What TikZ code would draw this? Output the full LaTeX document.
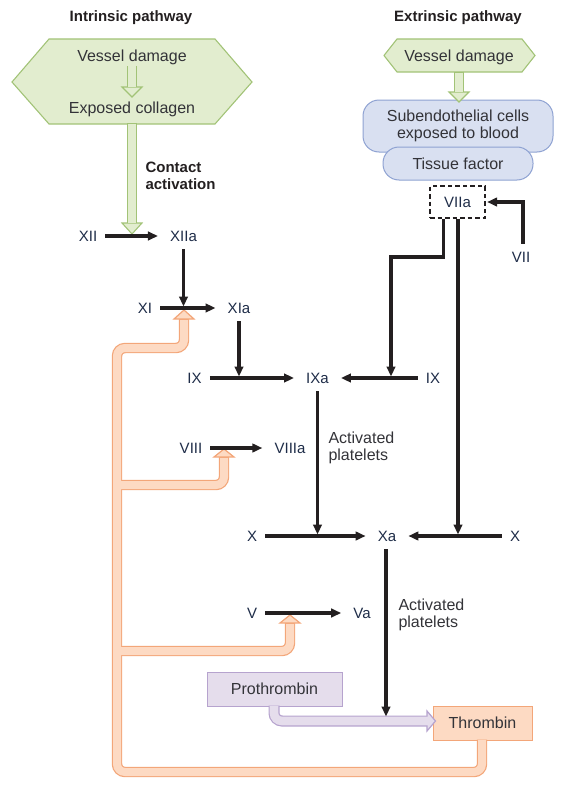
\documentclass[tikz,border=0pt]{standalone}
\usepackage{fontspec}
\setmainfont{Liberation Sans}
\usetikzlibrary{arrows.meta}
\definecolor{grfill}{HTML}{E2EDCF}
\definecolor{grline}{HTML}{A2C377}
\definecolor{blfill}{HTML}{D9E0F1}
\definecolor{blline}{HTML}{8EA2D2}
\definecolor{orfill}{HTML}{FDDAC3}
\definecolor{orline}{HTML}{F3A679}
\definecolor{pufill}{HTML}{E5DDEC}
\definecolor{puline}{HTML}{B6A3CE}
\definecolor{ink}{HTML}{231F20}
\definecolor{lab}{HTML}{1E2C48}
\definecolor{txt}{HTML}{333338}
\begin{document}
\begin{tikzpicture}[x=1pt,y=-1pt,
  every node/.style={font=\fontsize{16}{17}\selectfont, text=txt},
  fac/.style={font=\fontsize{15}{17}\selectfont, inner xsep=8pt, inner ysep=8pt, text=lab},
  head/.style={font=\fontsize{15}{17}\selectfont\bfseries, text=ink},
  harr/.style={line width=3.2pt, draw=ink, shorten >=4pt, -{Triangle[length=10pt,width=8.5pt]}},
  varr/.style={line width=3.2pt, draw=ink, shorten >=1.5pt, -{Triangle[length=10pt,width=8.5pt]}},
  bluebox/.style={draw=blline, fill=blfill, line width=1pt, align=center},
  purbox/.style={draw=puline, fill=pufill, line width=1pt, minimum height=34pt},
  orbox/.style={draw=orline, fill=orfill, line width=1pt, minimum height=34pt},
  gshaft/.style={line width=10pt, draw=grline},
  gfill/.style={line width=7.8pt, draw=grfill},
  ghead/.style={draw=grline, fill=grfill, line width=1.1pt, line join=miter},
  oshaft/.style={line width=10.4pt, draw=orline, rounded corners=8pt},
  ofill/.style={line width=8pt, draw=orfill, rounded corners=8pt},
  ohead/.style={draw=orline, fill=orfill, line width=1.2pt},
  pshaft/.style={line width=11pt, draw=puline, rounded corners=8pt},
  pfill/.style={line width=8.6pt, draw=pufill, rounded corners=8pt},
  phead/.style={draw=puline, fill=pufill, line width=1.2pt}
]
\useasboundingbox (0,0) rectangle (581,792);

% headings
\node[head, anchor=base] (hin) at (131,22) {Intrinsic pathway};
\node[head, anchor=base] (hex) at (458,22) {Extrinsic pathway};

% left hexagon
\draw[draw=grline, fill=grfill, line width=1.1pt] (12,82) -- (49,39) -- (215,39) -- (252,82) -- (215,124) -- (49,124) -- cycle;
\node[anchor=base] (vd1) at (132,62) {Vessel damage};
\node[anchor=base] (ec) at (132,113.5) {Exposed collagen};
\coordinate (ga1) at (132,66);
\coordinate (ga2) at (132,87.5);
\draw[gshaft] (ga1) -- (ga2);
\draw[ghead] (122,87) -- (132,97) -- (142,87) -- cycle;
\draw[gfill] (ga1) -- ([yshift=1pt]ga2);

% right hexagon
\draw[draw=grline, fill=grfill, line width=1.1pt] (384,55.5) -- (397,39) -- (522,39) -- (535,55.5) -- (522,72) -- (397,72) -- cycle;
\node[anchor=base] (vd2) at (459,61.5) {Vessel damage};

% extrinsic boxes
\node[bluebox, minimum width=190pt, minimum height=52pt, rounded corners=16pt] (sub) at (458,126) {Subendothelial cells\\exposed to blood};
\node[bluebox, minimum width=150pt, minimum height=33pt, rounded corners=16pt] (tf) at (458,163.5) {Tissue factor};

% right green arrow
\coordinate (gb1) at (459,71.5);
\coordinate (gb2) at (459,92.5);
\draw[gshaft] (gb1) -- (gb2);
\draw[ghead] (449,92) -- (459,102) -- (469,92) -- cycle;
\draw[gfill] ([yshift=-1pt]gb1) -- ([yshift=1pt]gb2);

% left big green arrow
\coordinate (gc1) at (132,123.5);
\coordinate (gc2) at (132,223.5);
\draw[gshaft] ([yshift=0.6pt]gc1) -- (gc2);
\draw[ghead] (122,223) -- (132,234) -- (142,223) -- cycle;
\draw[gfill] ([yshift=-0.6pt]gc1) -- ([yshift=1pt]gc2);

\node[head, anchor=west, align=left] (ca) at (142,176) {Contact\\activation};

% factor labels
\node[fac] (XII) at (88,236) {XII};
\node[fac] (XIIa) at (183.5,236) {XIIa};
\node[fac] (XI) at (145,308) {XI};
\node[fac] (XIa) at (239,308) {XIa};
\node[fac] (IX) at (194.5,378) {IX};
\node[fac] (IXa) at (317.5,378) {IXa};
\node[fac] (IXr) at (433,378) {IX};
\node[draw=ink, dashed, dash pattern=on 4.5pt off 3pt, line width=1.2pt, minimum width=55pt, minimum height=32pt, text=lab, font=\fontsize{15}{17}\selectfont] (VIIa) at (457.5,202) {VIIa};
\node[fac] (VII) at (521,257) {VII};
\node[fac] (VIII) at (191,448) {VIII};
\node[fac] (VIIIa) at (290,448) {VIIIa};
\node[fac] (X) at (252,536) {X};
\node[fac] (Xa) at (387,536) {Xa};
\node[fac] (Xr) at (515,536) {X};
\node[fac] (V) at (252,613) {V};
\node[fac] (Va) at (362,613) {Va};

\node[anchor=west, align=left] (ap1) at (325,448) {Activated\\platelets};
\node[anchor=west, align=left] (ap2) at (395,615) {Activated\\platelets};

% prothrombin / thrombin
\node[purbox, minimum width=135pt] (pro) at (274.5,689) {Prothrombin};
\node[orbox, minimum width=99pt] (thr) at (482.5,723) {Thrombin};

% purple arrow
\coordinate (pa1) at (274,705.5);
\coordinate (pa2) at (274,721);
\coordinate (pa3) at (427.5,721);
\draw[pshaft] (pa1) -- (pa2) -- (pa3);
\draw[phead] (427,711) -- (435.5,721) -- (427,731) -- cycle;
\draw[pfill] ([yshift=-0.6pt]pa1) -- (pa2) -- ([xshift=1pt]pa3);

% orange feedback band
\coordinate (o0) at (482,739.5);
\coordinate (o1) at (482,772);
\coordinate (o2) at (117,772);
\coordinate (o3) at (117,348);
\coordinate (o4) at (184,348);
\coordinate (o5) at (184,319);
\coordinate (b1) at (117,485);
\coordinate (b2) at (224,485);
\coordinate (b3) at (224,457);
\coordinate (c1) at (117,651);
\coordinate (c2) at (290,651);
\coordinate (c3) at (290,623);
\draw[oshaft] (o0) -- (o1) -- (o2) -- (o3) -- (o4) -- (o5);
\draw[oshaft] (b1) -- (b2) -- (b3);
\draw[oshaft] (c1) -- (c2) -- (c3);
\draw[ohead] (174,319) -- (184,310) -- (194,319) -- cycle;
\draw[ohead] (214,457) -- (224,449) -- (234,457) -- cycle;
\draw[ohead] (280,623) -- (290,615) -- (300,623) -- cycle;
\draw[ofill] ([yshift=-0.6pt]o0) -- (o1) -- (o2) -- (o3) -- (o4) -- ([yshift=-1pt]o5);
\draw[ofill] (b1) -- (b2) -- ([yshift=-1pt]b3);
\draw[ofill] (c1) -- (c2) -- ([yshift=-1pt]c3);

% black arrows
\draw[harr] (XII.east) -- (XIIa.west);
\draw[varr] (XIIa.south) -- (XIIa.south |- XI.center);
\draw[harr] (XI.east) -- (XIa.west);
\draw[varr] (XIa.south) -- (XIa.south |- IX.center);
\draw[harr] (IX.east) -- (IXa.west);
\draw[harr] (IXr.west) -- (IXa.east);
\draw[varr] ([xshift=2pt]VII.north) |- (VIIa.east);
\coordinate (k1) at (391,257);
\draw[varr] ([xshift=-14pt]VIIa.south) |- (k1) -- (k1 |- IXr.center);
\draw[varr] ([xshift=0.5pt]VIIa.south) -- ([xshift=0.5pt]VIIa.south |- Xr.center);
\draw[harr] (VIII.east) -- (VIIIa.west);
\draw[varr] (IXa.south) -- (IXa.south |- X.center);
\draw[harr] (X.east) -- (Xa.west);
\draw[harr] (Xr.west) -- (Xa.east);
\draw[harr] (V.east) -- (Va.west);
\coordinate (pj) at (386,716.5);
\draw[varr, shorten >=0pt] ([xshift=-1pt]Xa.south) -- (pj);
\end{tikzpicture}
\end{document}
